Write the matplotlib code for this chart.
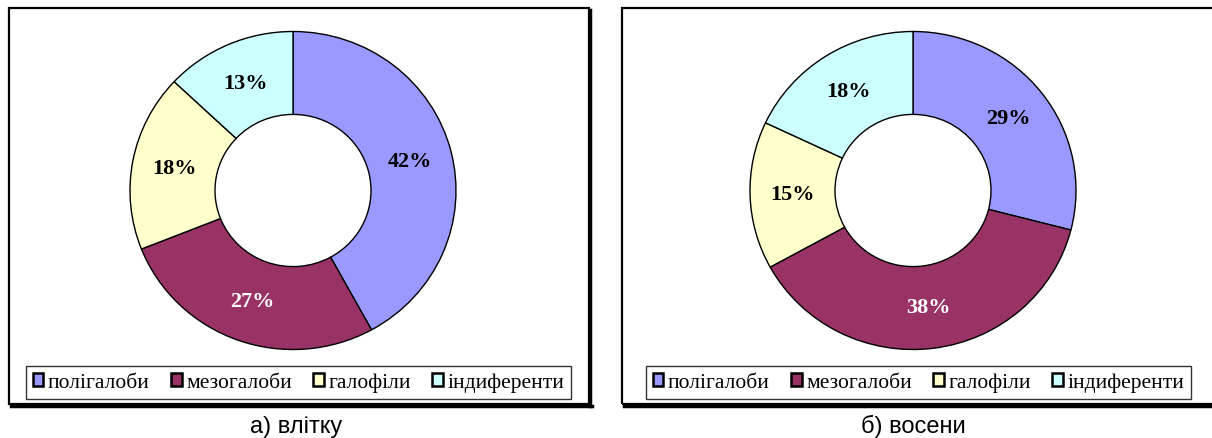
import matplotlib
matplotlib.use("Agg")
import numpy as np
import matplotlib.pyplot as plt
from matplotlib.patches import Rectangle, Patch

categories = ["полігалоби", "мезогалоби", "галофіли", "індиференти"]
summer = [42, 27, 18, 13]
autumn = [29, 38, 15, 18]
captions = ["а) влітку", "б) восени"]
colors = ["#9999FF", "#993366", "#FFFFCC", "#CCFFFF"]
label_colors = ["black", "white", "black", "black"]

W, H = 1212, 439
plt.rcParams['font.family'] = ['Liberation Serif', 'DejaVu Serif']
fig = plt.figure(figsize=(W / 100, H / 100), dpi=100)


def fx(x):
    return x / W


def fy(y):
    return 1 - y / H


panels = [
    dict(data=summer, cx=293, cy=191.5, frame=(9, 9, 589, 405), leg=(26, 366, 571, 401), cap_x=296),
    dict(data=autumn, cx=913, cy=191.5, frame=(622, 9, 1230, 405), leg=(637, 366, 1200, 401), cap_x=913),
]

Rx, Ry = 163, 159
r_in = 78 / 163
lim = 1.05
for p, cap in zip(panels, captions):
    x0, y0, x1, y1 = p["frame"]
    fig.add_artist(Rectangle((fx(x0), fy(y1)), fx(x1 - x0), (y1 - y0) / H,
                             transform=fig.transFigure, fill=False, lw=1.6, ec="black"))
    fig.add_artist(plt.Line2D([fx(x1 + 1), fx(x1 + 1)], [fy(y0 + 2), fy(y1 + 2)],
                              transform=fig.transFigure, lw=2.5, color="black"))
    fig.add_artist(plt.Line2D([fx(x0 + 2), fx(x1 + 2.5)], [fy(y1 + 1.5), fy(y1 + 1.5)],
                              transform=fig.transFigure, lw=2.5, color="black"))

    ax = fig.add_axes([fx(p["cx"] - Rx * lim), fy(p["cy"] + Ry * lim),
                       2 * Rx * lim / W, 2 * Ry * lim / H])
    ax.pie(p["data"], colors=colors, startangle=90, counterclock=False, radius=1,
           wedgeprops=dict(width=1 - r_in, edgecolor="black", linewidth=1.0))
    total = sum(p["data"])
    start = 90
    mid_r = (1 + r_in) / 2
    for v, lc in zip(p["data"], label_colors):
        ang = np.deg2rad(start - 360 * v / total / 2)
        start -= 360 * v / total
        ax.text(mid_r * np.cos(ang), mid_r * np.sin(ang), f"{v}%", ha="center", va="center",
                fontsize=16, fontweight="bold", color=lc)
    ax.set_xlim(-lim, lim)
    ax.set_ylim(-lim, lim)
    ax.set_aspect("auto")
    ax.axis("off")

    lx0, ly0, lx1, ly1 = p["leg"]
    handles = [Patch(facecolor=c, edgecolor="black", linewidth=1.8) for c in colors]
    leg = fig.legend(handles, categories, ncol=4, loc="center",
                     bbox_to_anchor=(fx((lx0 + lx1) / 2), fy((ly0 + ly1) / 2)),
                     fontsize=15.5, frameon=True, fancybox=False, edgecolor="black",
                     handlelength=0.5, handleheight=0.55, handletextpad=0.2, columnspacing=1.0,
                     borderpad=0.3, borderaxespad=0)
    leg.get_frame().set_linewidth(1.0)

    fig.text(fx(p["cap_x"]), fy(433), cap, ha="center", va="baseline", fontsize=17,
             family=["Liberation Sans", "DejaVu Sans"])

fig.savefig("out.png", dpi=100, facecolor="white")
